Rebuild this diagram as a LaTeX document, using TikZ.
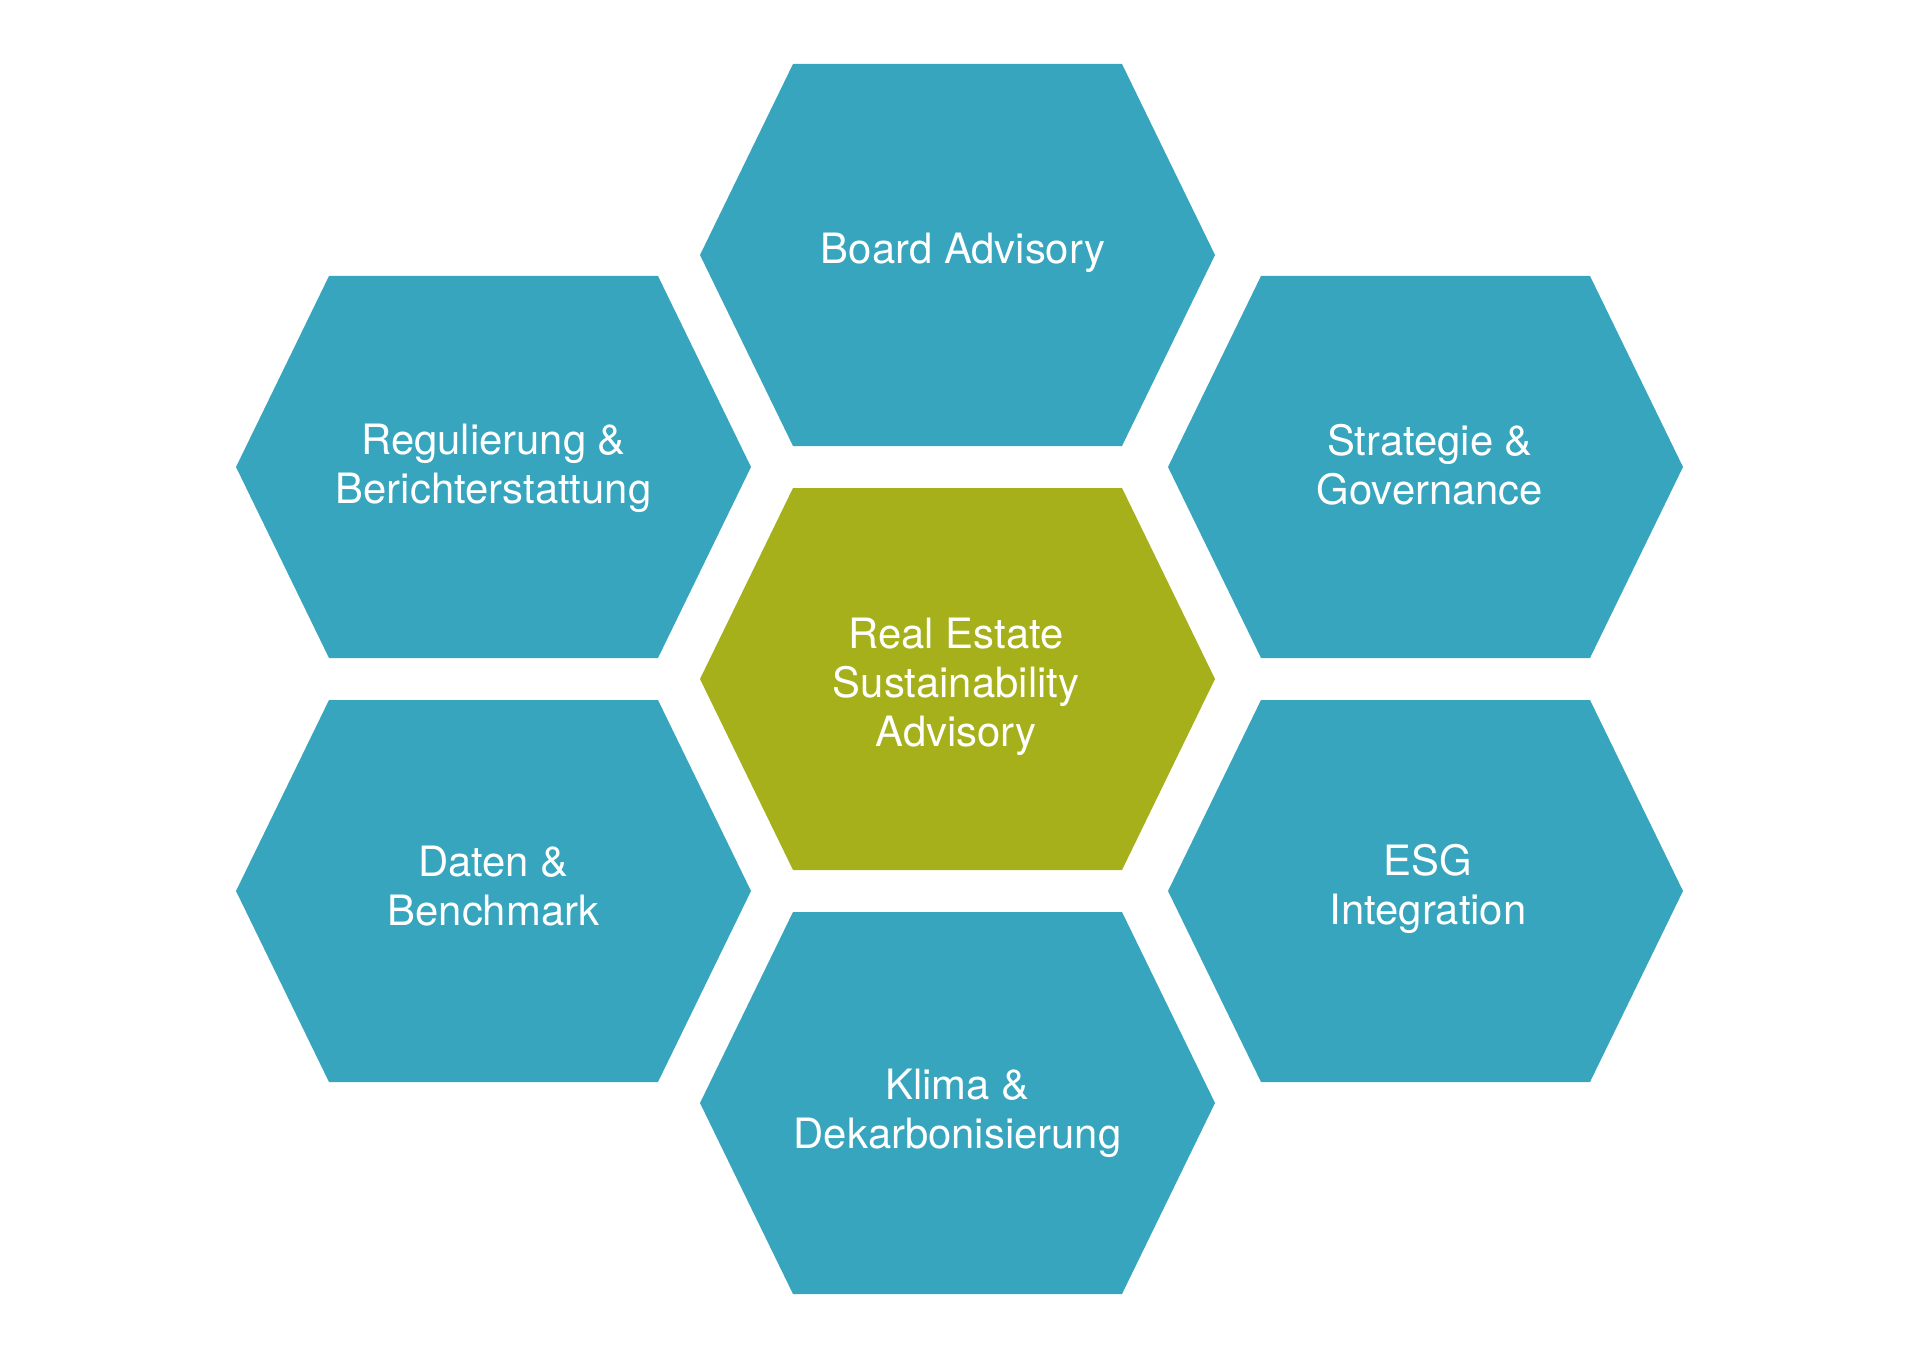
\documentclass[tikz,border=0pt]{standalone}
\usepackage{fontspec}
\setmainfont{TeX Gyre Heros}
\usetikzlibrary{shapes,calc}
\definecolor{hexteal}{RGB}{54,165,189}
\definecolor{hexgreen}{RGB}{166,176,27}
\tikzset{
  x=0.02cm, y=-0.02cm,
  hexcell/.style = {fill=hexteal},
  hexcore/.style = {fill=hexgreen},
  hexlabel/.style = {align=center, inner sep=0pt, text centered, white, font=\fontsize{23.8}{27.8}\selectfont}
}
% one hexagon, centred at #1, filled with style #2
\newcommand{\hexagon}[2]{
  \fill[#2, shift={(#1)}] (-257.5,0) -- (-164.5,-191) -- (164.5,-191) -- (257.5,0)
    -- (164.5,191) -- (-164.5,191) -- cycle;
}

\begin{document}
\begin{tikzpicture}
	\useasboundingbox (0,0) rectangle (1920,1358);
	\hexagon{957.5,255}{hexcell}
	\hexagon{1425.5,467}{hexcell}
	\hexagon{1425.5,891}{hexcell}
	\hexagon{957.5,1103}{hexcell}
	\hexagon{493.5,891}{hexcell}
	\hexagon{493.5,467}{hexcell}
	\hexagon{957.5,679}{hexcore}
	\node [hexlabel] (board) at (963,253) {Board Advisory};
	\node [hexlabel] (strategie) at (1430,465) {Strategie \&\\Governance};
	\node [hexlabel] (esg) at (1428,889) {ESG\\Integration};
	\node [hexlabel] (klima) at (957.5,1113) {Klima \&\\Dekarbonisierung};
	\node [hexlabel] (daten) at (493.5,886) {Daten \&\\Benchmark};
	\node [hexlabel] (regulierung) at (493.5,468) {Regulierung \&\\Berichterstattung};
	\node [hexlabel] (core) at (956,687) {Real Estate\\Sustainability\\Advisory};
\end{tikzpicture}
\end{document}
